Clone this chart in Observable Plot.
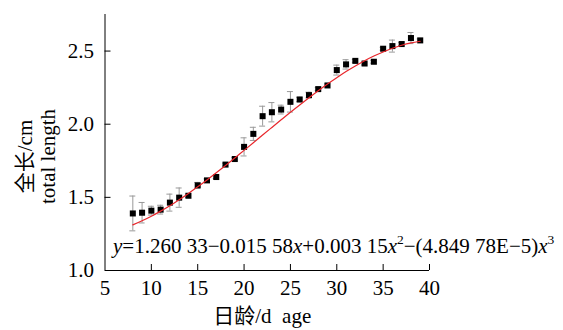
<!DOCTYPE html>
<html><head><meta charset="utf-8">
<script src="https://cdn.jsdelivr.net/npm/d3@7"></script>
<script src="https://cdn.jsdelivr.net/npm/@observablehq/plot@0.6"></script>
<style>body{margin:0;background:#fff}</style>
</head><body><div id="chart"></div>
<script>
const days = [8,9,10,11,12,13,14,15,16,17,18,19,20,21,22,23,24,25,26,27,28,29,30,31,32,33,34,35,36,37,38,39];
const means = [1.390,1.395,1.409,1.416,1.464,1.498,1.511,1.582,1.616,1.639,1.724,1.762,1.845,1.934,2.055,2.082,2.100,2.153,2.169,2.199,2.240,2.265,2.370,2.409,2.433,2.415,2.427,2.516,2.534,2.548,2.589,2.573];
const errors = [0.119,0.070,0.030,0.030,0.058,0.066,0.012,0.020,0.010,0.010,0.010,0.010,0.062,0.045,0.068,0.066,0.030,0.070,0.015,0.020,0.010,0.010,0.034,0.032,0.010,0.010,0.010,0.010,0.041,0.010,0.038,0.010];
const fitValues = [1.312,1.340,1.371,1.406,1.443,1.484,1.527,1.572,1.619,1.668,1.718,1.769,1.821,1.873,1.926,1.978,2.030,2.082,2.132,2.181,2.229,2.275,2.318,2.360,2.398,2.434,2.466,2.494,2.519,2.540,2.556,2.567];
const xTicks = [5,10,15,20,25,30,35,40];
const yTicks = [1.0,1.5,2.0,2.5];
const xLabel = "日龄/d\u00a0 age";
const yLabel = ["全长/cm", "total length"];
const equation = "y=1.260 33−0.015 58x+0.003 15x²−(4.849 78E−5)x³";

const pts = days.map((d, i) => ({day: d, mean: means[i], err: errors[i]}));
const fit = days.map((d, i) => ({day: d, value: fitValues[i]}));
const errColor = "#999999";

const chart = Plot.plot({
  width: 563, height: 330,
  marginLeft: 104.5, marginRight: 134, marginTop: 14, marginBottom: 60,
  style: {fontFamily: "'Liberation Serif', 'Times New Roman', 'Noto Sans CJK SC', serif", fontSize: "21px", background: "#fff", color: "#000", overflow: "visible"},
  x: {domain: [xTicks[0], xTicks[xTicks.length - 1]]},
  y: {domain: [1, 2.75]},
  marks: [
    Plot.axisX({ticks: xTicks, tickSize: 0, tickPadding: 10, tickFormat: d => String(d), label: null, fontSize: 21}),
    Plot.axisY({ticks: yTicks, tickSize: 0, tickPadding: 11, tickFormat: d => d.toFixed(1), label: null, fontSize: 21}),
    Plot.ruleX([xTicks[0]], {stroke: "#000"}),
    Plot.ruleY([yTicks[0]], {stroke: "#000"}),
    Plot.ruleX(xTicks.slice(1), {x: d => d, y1: () => yTicks[0], y2: () => yTicks[0], insetTop: 0, insetBottom: 6, stroke: "#000"}),
    Plot.ruleY(yTicks.slice(1), {y: d => d, x1: () => xTicks[0], x2: () => xTicks[0], insetLeft: 0, insetRight: -6, stroke: "#000"}),
    Plot.ruleX(pts, {x: "day", y1: d => d.mean - d.err, y2: d => d.mean + d.err, stroke: errColor, strokeWidth: 1}),
    Plot.ruleY(pts, {y: d => d.mean + d.err, x1: "day", x2: "day", insetLeft: -3, insetRight: -3, stroke: errColor}),
    Plot.ruleY(pts, {y: d => d.mean - d.err, x1: "day", x2: "day", insetLeft: -3, insetRight: -3, stroke: errColor}),
    Plot.dot(pts, {x: "day", y: "mean", symbol: "square", r: 3.4, fill: "#000", stroke: "none"}),
    Plot.line(fit, {x: "day", y: "value", stroke: "#e8262b", strokeWidth: 1.2, curve: "natural"}),
    Plot.text([yLabel.join("\n")], {text: d => d, frameAnchor: "left", rotate: -90, textAnchor: "middle", lineAnchor: "bottom", lineHeight: 1.08, dx: -50, dy: 14, fontSize: 21}),
    Plot.text([xLabel], {text: d => d, frameAnchor: "bottom", lineAnchor: "bottom", dx: -5, dy: 52, fontSize: 21}),
    Plot.text([equation], {text: d => d, frameAnchor: "bottom-left", textAnchor: "start", lineAnchor: "bottom", dx: 8, dy: -18, fontSize: 21})
  ]
});

// rich-text formatting for the fitted equation (italic variables, superscripts)
chart.querySelectorAll("text").forEach(t => {
  if (t.textContent === equation) {
    t.textContent = "";
    const ns = "http://www.w3.org/2000/svg";
    let raised = false;
    for (const ch of equation) {
      const sp = document.createElementNS(ns, "tspan");
      if (ch === "²" || ch === "³") {
        sp.textContent = ch === "²" ? "2" : "3";
        sp.setAttribute("font-size", "13.5");
        sp.setAttribute("dy", "-8.5");
        raised = true;
      } else {
        sp.textContent = ch;
        if (raised) { sp.setAttribute("dy", "8.5"); raised = false; }
        if (ch === "x" || ch === "y") sp.setAttribute("font-style", "italic");
      }
      t.appendChild(sp);
    }
  }
});
document.getElementById("chart").appendChild(chart);
</script>
</body></html>
